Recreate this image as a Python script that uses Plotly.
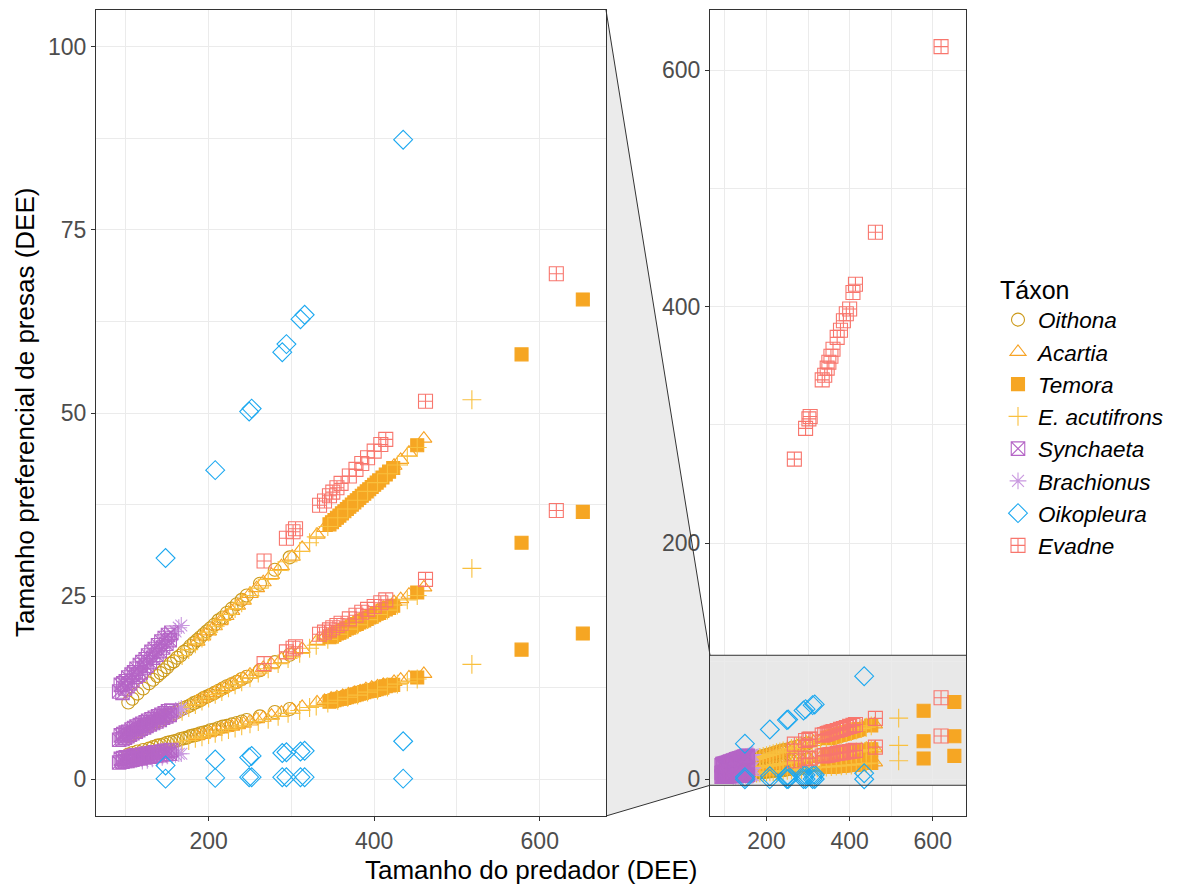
import plotly.graph_objects as go

# Predator size (DEE) and preferred prey size (DEE): three estimates per predator
oithona_x = [103, 108, 114, 121, 128, 133, 138, 142, 146, 150, 154, 158, 162, 166, 170, 174, 178,
             182, 186, 190, 194, 198, 202, 207, 212, 217, 222, 228, 234, 240, 246, 262, 280, 298]
oithona_sup = [10.5, 11.0, 11.7, 12.4, 13.1, 13.6, 14.1, 14.5, 14.9, 15.3, 15.8, 16.1, 16.6, 16.9,
               17.4, 17.7, 18.2, 18.6, 19.0, 19.4, 19.8, 20.2, 20.6, 21.1, 21.7, 22.1, 22.7, 23.3,
               23.9, 24.5, 25.1, 26.7, 28.6, 30.3]
oithona_med = [5.9, 6.2, 6.5, 6.9, 7.3, 7.6, 7.9, 8.1, 8.3, 8.6, 8.8, 9.0, 9.2, 9.5, 9.7, 9.9, 10.1,
               10.4, 10.6, 10.8, 11.1, 11.3, 11.5, 11.8, 12.1, 12.4, 12.7, 13.0, 13.3, 13.7, 14.0,
               14.9, 16.0, 17.0]
oithona_inf = [3.4, 3.6, 3.8, 4.0, 4.2, 4.4, 4.6, 4.7, 4.8, 5.0, 5.1, 5.2, 5.3, 5.5, 5.6, 5.7, 5.9,
               6.0, 6.1, 6.3, 6.4, 6.5, 6.7, 6.8, 7.0, 7.2, 7.3, 7.5, 7.7, 7.9, 8.1, 8.6, 9.2, 9.6]

acartia_x = [186, 193, 200, 207, 214, 221, 228, 235, 242, 250, 258, 266, 276, 288, 301, 313, 331,
             340, 348, 355, 362, 369, 376, 383, 390, 397, 404, 411, 424, 432, 442, 460]
acartia_sup = [18.8, 19.5, 20.2, 20.9, 21.6, 22.3, 23.0, 23.7, 24.4, 25.3, 26.1, 26.9, 27.9, 29.1,
               30.4, 31.6, 33.4, 34.3, 35.1, 35.9, 36.6, 37.3, 38.0, 38.7, 39.4, 40.1, 40.8, 41.5,
               42.8, 43.6, 44.6, 46.5]
acartia_med = [10.6, 11.0, 11.4, 11.8, 12.2, 12.6, 13.0, 13.4, 13.8, 14.3, 14.7, 15.2, 15.7, 16.4,
               17.2, 17.8, 18.9, 19.4, 19.8, 20.2, 20.6, 21.0, 21.4, 21.8, 22.2, 22.6, 23.0, 23.4,
               24.2, 24.6, 25.2, 26.2]
acartia_inf = [5.9, 6.1, 6.3, 6.5, 6.8, 7.0, 7.2, 7.4, 7.6, 7.9, 8.2, 8.4, 8.7, 9.1, 9.5, 9.9, 10.5,
               10.7, 11.0, 11.2, 11.4, 11.6, 11.8, 12.0, 12.3, 12.5, 12.7, 12.9, 13.3, 13.6, 13.9, 14.4]

temora_x = [346, 349, 352, 355, 358, 361, 364, 367, 370, 373, 376, 379, 382, 385, 388, 391, 394,
            397, 400, 403, 406, 410, 414, 418, 423, 452, 578, 652]
temora_sup = [34.8, 35.1, 35.4, 35.7, 36.0, 36.3, 36.6, 36.9, 37.2, 37.5, 37.8, 38.1, 38.4, 38.7,
              39.0, 39.3, 39.6, 39.9, 40.2, 40.5, 40.8, 41.2, 41.6, 42.0, 42.5, 45.6, 58.0, 65.5]
temora_med = [19.4, 19.5, 19.7, 19.9, 20.0, 20.2, 20.4, 20.6, 20.7, 20.9, 21.1, 21.2, 21.4, 21.6,
              21.7, 21.9, 22.1, 22.2, 22.4, 22.6, 22.7, 23.0, 23.2, 23.4, 23.7, 25.5, 32.3, 36.5]
temora_inf = [10.6, 10.7, 10.8, 10.9, 11.0, 11.0, 11.1, 11.2, 11.3, 11.4, 11.5, 11.6, 11.7, 11.8,
              11.9, 12.0, 12.1, 12.1, 12.2, 12.3, 12.4, 12.5, 12.7, 12.8, 12.9, 13.9, 17.7, 19.9]

acutifrons_x = [168, 176, 184, 192, 200, 208, 216, 224, 232, 240, 250, 260, 272, 284, 296, 310, 322,
                330, 344, 356, 368, 380, 392, 404, 416, 428, 440, 452, 518]
acutifrons_sup = [16.9, 17.7, 18.5, 19.3, 20.1, 20.9, 21.7, 22.5, 23.3, 24.1, 25.1, 26.1, 27.3, 28.5,
                  29.7, 31.1, 32.3, 33.1, 34.5, 35.7, 36.9, 38.1, 39.3, 40.5, 41.7, 42.9, 44.1, 45.3,
                  51.8]
acutifrons_med = [9.3, 9.8, 10.2, 10.7, 11.1, 11.6, 12.0, 12.5, 12.9, 13.3, 13.9, 14.5, 15.1, 15.8,
                  16.5, 17.2, 17.9, 18.3, 19.1, 19.8, 20.5, 21.1, 21.8, 22.5, 23.1, 23.8, 24.5, 25.1,
                  28.8]
acutifrons_inf = [5.1, 5.3, 5.6, 5.8, 6.1, 6.3, 6.5, 6.8, 7.0, 7.3, 7.6, 7.9, 8.2, 8.6, 9.0, 9.4, 9.8,
                  10.0, 10.4, 10.8, 11.2, 11.5, 11.9, 12.2, 12.6, 13.0, 13.3, 13.7, 15.7]

synchaeta_x = [92, 94, 96, 97, 99, 100, 102, 103, 105, 107, 108, 110, 112, 113, 115, 117, 118, 120,
               122, 124, 125, 127, 129, 131, 133, 135, 137, 139, 141, 143, 145, 147, 149, 151, 153, 155]
synchaeta_sup = [12.0, 12.9, 11.8, 13.1, 12.4, 13.4, 12.7, 13.9, 13.1, 14.3, 13.5, 14.6, 14.0, 15.1,
                 14.3, 15.6, 14.6, 16.0, 15.2, 16.4, 15.5, 16.9, 16.0, 17.4, 16.6, 17.8, 17.0, 18.3,
                 17.5, 18.8, 18.0, 19.3, 18.5, 19.7, 19.0, 20.0]
synchaeta_med = [5.4, 6.0, 5.5, 6.2, 5.7, 6.4, 5.9, 6.5, 6.1, 6.8, 6.3, 7.0, 6.5, 7.2, 6.7, 7.4, 6.9,
                 7.6, 7.1, 7.8, 7.3, 8.0, 7.5, 8.2, 7.7, 8.4, 7.9, 8.6, 8.1, 8.8, 8.4, 9.0, 8.6, 9.3,
                 8.8, 9.4]
synchaeta_inf = [2.3, 2.8, 2.4, 2.9, 2.5, 3.0, 2.5, 3.0, 2.6, 3.1, 2.7, 3.2, 2.8, 3.3, 2.9, 3.3, 2.9,
                 3.4, 3.0, 3.5, 3.1, 3.5, 3.1, 3.6, 3.2, 3.7, 3.3, 3.7, 3.3, 3.8, 3.4, 3.9, 3.5, 3.9,
                 3.5, 4.0]

brachionus_x = [120, 126, 132, 138, 144, 150, 156, 160, 164, 167]
brachionus_sup = [15.1, 15.9, 16.6, 17.4, 18.1, 18.9, 19.7, 20.2, 20.7, 21.0]
brachionus_med = [7.0, 7.3, 7.7, 8.0, 8.4, 8.7, 9.0, 9.3, 9.5, 9.7]
brachionus_inf = [2.5, 2.6, 2.8, 2.9, 3.0, 3.2, 3.3, 3.4, 3.5, 3.5]

oikopleura_x = [148, 208, 249, 252, 289, 294, 311, 316, 435]
oikopleura_sup = [30.2, 42.2, 50.2, 50.6, 58.3, 59.4, 62.8, 63.4, 87.3]
oikopleura_med = [1.9, 2.7, 3.0, 3.2, 3.6, 3.7, 3.8, 3.9, 5.2]
oikopleura_inf = [0.1, 0.2, 0.3, 0.3, 0.3, 0.3, 0.3, 0.3, 0.1]

evadne_x = [267, 294, 302, 305, 334, 340, 346, 350, 355, 360, 370, 378, 385, 392, 400, 408, 414, 462, 620]
evadne_max = [271, 297, 305, 307, 338, 342, 348, 353, 358, 364, 374, 380, 388, 394, 398, 412, 419, 463, 620]
evadne_sup = [29.8, 32.9, 33.8, 34.2, 37.4, 38.0, 38.7, 39.2, 39.8, 40.4, 41.4, 42.3, 43.1, 43.9,
              44.8, 45.7, 46.4, 51.6, 69.0]
evadne_med = [15.8, 17.4, 17.9, 18.1, 19.8, 20.1, 20.4, 20.7, 21.0, 21.3, 21.9, 22.4, 22.8, 23.2,
              23.6, 24.1, 24.5, 27.3, 36.7]

# name, x, list of y-series, symbol, colour, size, legend rank (drawing order is list order)
taxa = [
    ("Oithona", oithona_x, [oithona_sup, oithona_med, oithona_inf], "circle-open", "#CC9A1A", 13, 1),
    ("Acartia", acartia_x, [acartia_sup, acartia_med, acartia_inf], "triangle-up-open", "#F7A325", 14, 2),
    ("Temora", temora_x, [temora_sup, temora_med, temora_inf], "square", "#F6A623", 13, 3),
    ("E. acutifrons", acutifrons_x, [acutifrons_sup, acutifrons_med, acutifrons_inf], "cross-thin-open", "#F9C03E", 13.5, 4),
    ("Brachionus", brachionus_x, [brachionus_sup, brachionus_med, brachionus_inf], "asterisk-open", "#C998DF", 14, 6),
    ("Synchaeta", synchaeta_x, [synchaeta_sup, synchaeta_med, synchaeta_inf], "square-x-open", "#B565C6", 13.5, 5),
    ("Oikopleura", oikopleura_x, [oikopleura_sup, oikopleura_med, oikopleura_inf], "diamond-open", "#1BA8F0", 14.5, 7),
    ("Evadne", evadne_x, [evadne_max, evadne_sup, evadne_med], "square-cross-open", "#F8766D", 14, 8),
]

# zoomed window (left panel) and full view (right panel)
x_range = [64, 680]
zoom_y = [-5, 105]
full_y = [-31, 651]

W, H = 1181, 884
ML, MR, MT, MB = 96, 215, 10, 68
plot_w = W - ML - MR
plot_h = H - MT - MB
left_dom = [0, (606 - ML) / plot_w]
right_dom = [(710 - ML) / plot_w, 1]

fig = go.Figure()
for axes in (("x", "y"), ("x2", "y2")):
    for name, xs, ys, symbol, color, size, rank in taxa:
        xx, yy = [], []
        for series in ys:
            xx += xs
            yy += series
        fig.add_trace(go.Scatter(
            x=xx, y=yy, mode="markers", name=name, legendgroup=name, legendrank=rank,
            showlegend=(axes[0] == "x"), xaxis=axes[0], yaxis=axes[1],
            marker=dict(symbol=symbol, color=color, size=size, line=dict(color=color, width=1.1)),
            hoverinfo="skip"))

GRID = "#EBEBEB"
BORDER = "#333333"
FONT = "Liberation Sans, Arial, sans-serif"
tickfont = dict(family=FONT, size=23, color="#4D4D4D")
common = dict(showline=True, mirror=True, linecolor=BORDER, linewidth=1.1, ticks="outside",
              ticklen=4, tickwidth=1.1, tickcolor=BORDER, tickfont=tickfont, gridcolor=GRID,
              gridwidth=1.1, zeroline=False, showgrid=True)

fig.update_layout(
    width=W, height=H, autosize=False,
    margin=dict(l=ML, r=MR, t=MT, b=MB),
    paper_bgcolor="white", plot_bgcolor="white",
    font=dict(family=FONT, color="black"),
    xaxis=dict(domain=left_dom, range=x_range, dtick=200, tick0=0, anchor="y",
               minor=dict(dtick=100, tick0=0, showgrid=True, gridcolor=GRID, gridwidth=0.6), **common),
    yaxis=dict(domain=[0, 1], range=zoom_y, dtick=25, tick0=0, anchor="x",
               minor=dict(dtick=12.5, tick0=0, showgrid=True, gridcolor=GRID, gridwidth=0.6), **common),
    xaxis2=dict(domain=right_dom, range=x_range, dtick=200, tick0=0, anchor="y2",
                minor=dict(dtick=100, tick0=0, showgrid=True, gridcolor=GRID, gridwidth=0.6), **common),
    yaxis2=dict(domain=[0, 1], range=full_y, dtick=200, tick0=0, anchor="x2",
                minor=dict(dtick=100, tick0=0, showgrid=True, gridcolor=GRID, gridwidth=0.6), **common),
    legend=dict(x=(998 - ML) / plot_w, xanchor="left", y=(H - MB - 266) / plot_h, yanchor="top",
                font=dict(family=FONT, size=22.5, style="italic", color="black"), tracegroupgap=0,
                traceorder="grouped", itemsizing="trace",
                title=dict(text="Táxon", font=dict(family=FONT, size=25, style="normal", color="black"))),
    showlegend=True,
)

# zoom indicator: band on the full view and the connector to the zoomed panel
frac = lambda v: (v - full_y[0]) / (full_y[1] - full_y[0])
yt, yb = frac(zoom_y[1]), frac(zoom_y[0])
x0, x1 = left_dom[1], right_dom[0]
fig.add_shape(type="path", xref="paper", yref="paper", layer="below",
              path=f"M {x0},1 L {x1},{yt} L {x1},{yb} L {x0},0 Z",
              fillcolor="#EBEBEB", line=dict(width=0))
fig.add_shape(type="line", xref="paper", yref="paper", x0=x0, y0=1, x1=x1, y1=yt,
              line=dict(color=BORDER, width=1))
fig.add_shape(type="line", xref="paper", yref="paper", x0=x0, y0=0, x1=x1, y1=yb,
              line=dict(color=BORDER, width=1))
fig.add_shape(type="rect", xref="x2 domain", yref="y2", x0=0, x1=1, y0=zoom_y[0], y1=zoom_y[1],
              fillcolor="#E8E8E8", line=dict(width=0), layer="below")
for v in zoom_y:
    fig.add_shape(type="line", xref="x2 domain", yref="y2", x0=0, x1=1, y0=v, y1=v,
                  line=dict(color=BORDER, width=1))

fig.add_annotation(text="Tamanho do predador (DEE)", xref="paper", yref="paper",
                   x=0.5, y=-(870 - (H - MB)) / plot_h, xanchor="center", yanchor="middle",
                   showarrow=False, font=dict(family=FONT, size=26, color="black"))
fig.add_annotation(text="Tamanho preferencial de presas (DEE)", xref="paper", yref="paper",
                   x=(25 - ML) / plot_w, y=0.5, xanchor="center", yanchor="middle", textangle=-90,
                   showarrow=False, font=dict(family=FONT, size=26, color="black"))

fig.write_html("out.html")
